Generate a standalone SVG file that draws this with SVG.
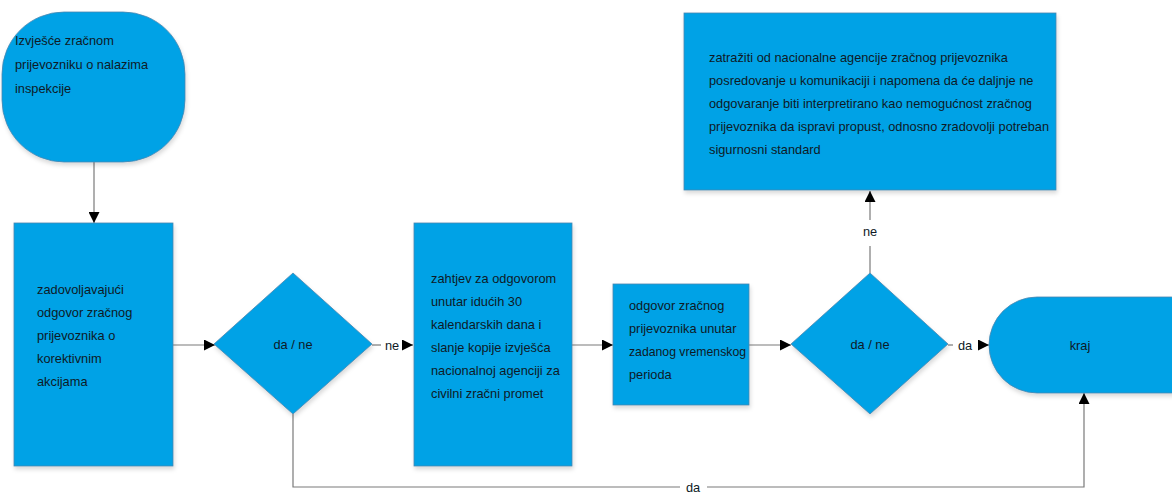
<svg xmlns="http://www.w3.org/2000/svg" width="1172" height="493" viewBox="0 0 1172 493">
<defs>
<marker id="ah" viewBox="0 0 10 10" refX="10" refY="5" markerWidth="11" markerHeight="11" markerUnits="userSpaceOnUse" orient="auto">
<path d="M0,0 L10,5 L0,10 z" fill="#000"/>
</marker>
<filter id="sh" x="-5%" y="-5%" width="115%" height="115%">
<feDropShadow dx="1" dy="3" stdDeviation="2" flood-color="#000" flood-opacity="0.15"/>
</filter>
</defs>
<style>
.n{fill:#00a2e6;stroke:#4a87b0;stroke-width:0.8;filter:url(#sh)}
.t{font-family:"Liberation Sans",Arial,sans-serif;font-size:12.8px;fill:#0e1a26}
.c{fill:none;stroke:#7a7a7a;stroke-width:1.2}
.a{marker-end:url(#ah)}
.m{text-anchor:middle}
</style>
<rect width="1172" height="493" fill="#fff"/>
<g id="connectors">
<line class="c a" x1="94" y1="162" x2="94" y2="223"/>
<line class="c a" x1="173" y1="345" x2="215" y2="345"/>
<line class="c" x1="372" y1="345" x2="381" y2="345"/>
<line class="c a" x1="402" y1="345" x2="413" y2="345"/>
<line class="c a" x1="572" y1="345" x2="613" y2="345"/>
<line class="c a" x1="749" y1="345" x2="791" y2="345"/>
<line class="c" x1="870" y1="273" x2="870" y2="246"/>
<line class="c a" x1="870" y1="220" x2="870" y2="191"/>
<line class="c" x1="948" y1="345" x2="953" y2="345"/>
<line class="c a" x1="979" y1="345" x2="989" y2="345"/>
<polyline class="c" points="293,414 293,487 680,487"/>
<polyline class="c a" points="707,487 1084,487 1084,393"/>
<text class="t m" x="392" y="350">ne</text>
<text class="t m" x="870" y="236">ne</text>
<text class="t m" x="965" y="350">da</text>
<text class="t m" x="693" y="492">da</text>
</g>
<g id="start">
<rect class="n" x="2" y="12" width="183" height="150" rx="62" ry="62"/>
<text class="t" x="15" y="45">Izvješće zračnom</text>
<text class="t" x="15" y="69">prijevozniku o nalazima</text>
<text class="t" x="15" y="93">inspekcije</text>
</g>
<g id="box1">
<rect class="n" x="14" y="223" width="159" height="243"/>
<text class="t" x="37" y="294">zadovoljavajući</text>
<text class="t" x="37" y="317">odgovor zračnog</text>
<text class="t" x="37" y="340">prijevoznika o</text>
<text class="t" x="37" y="363">korektivnim</text>
<text class="t" x="37" y="386">akcijama</text>
</g>
<g id="decision1">
<polygon class="n" points="293,273 372,344 293,414 214,344"/>
<text class="t m" x="293" y="349">da / ne</text>
</g>
<g id="box2">
<rect class="n" x="414" y="223" width="158" height="243"/>
<text class="t" x="431" y="283">zahtjev za odgovorom</text>
<text class="t" x="431" y="306">unutar idućih 30</text>
<text class="t" x="431" y="329">kalendarskih dana i</text>
<text class="t" x="431" y="352">slanje kopije izvješća</text>
<text class="t" x="431" y="375">nacionalnoj agenciji za</text>
<text class="t" x="431" y="398">civilni zračni promet</text>
</g>
<g id="box3">
<rect class="n" x="613" y="284" width="136" height="121"/>
<text class="t" x="629" y="310">odgovor zračnog</text>
<text class="t" x="629" y="333">prijevoznika unutar</text>
<text class="t" x="629" y="356" textLength="117" lengthAdjust="spacingAndGlyphs">zadanog vremenskog</text>
<text class="t" x="629" y="379">perioda</text>
</g>
<g id="decision2">
<polygon class="n" points="870,273 948,344 870,414 791,344"/>
<text class="t m" x="870" y="349">da / ne</text>
</g>
<g id="topbox">
<rect class="n" x="684" y="13" width="372" height="177"/>
<text class="t" x="709" y="62">zatražiti od nacionalne agencije zračnog prijevoznika</text>
<text class="t" x="709" y="85">posredovanje u komunikaciji i napomena da će daljnje ne</text>
<text class="t" x="709" y="108">odgovaranje biti interpretirano kao nemogućnost zračnog</text>
<text class="t" x="709" y="131">prijevoznika da ispravi propust, odnosno zradovolji potreban</text>
<text class="t" x="709" y="154">sigurnosni standard</text>
</g>
<g id="end">
<rect class="n" x="989" y="297" width="230" height="96" rx="48" ry="48"/>
<text class="t m" x="1080" y="350">kraj</text>
</g>
</svg>
